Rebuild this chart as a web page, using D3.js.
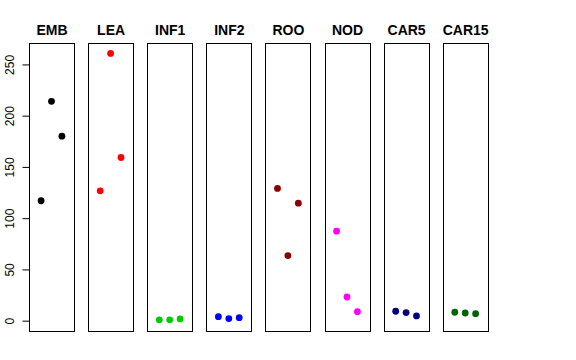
<!DOCTYPE html>
<html><head><meta charset="utf-8">
<script src="https://cdn.jsdelivr.net/npm/d3@7"></script>
<style>body{margin:0;background:#fff}svg{display:block}</style>
</head><body>
<script>
const categories = ["EMB","LEA","INF1","INF2","ROO","NOD","CAR5","CAR15"];
const colors = ["#000000","#FF0000","#00CD00","#0000FF","#8B0000","#FF00FF","#000080","#006400"];
const EMB = [117, 214, 180];
const LEA = [126.7, 260.7, 159.2];
const INF1 = [0.8, 0.8, 1.7];
const INF2 = [3.9, 2.0, 2.9];
const ROO = [129, 63.5, 114.6];
const NOD = [87.3, 23.1, 8.8];
const CAR5 = [9.2, 7.9, 4.6];
const CAR15 = [8.2, 7.5, 6.8];
const series = [EMB, LEA, INF1, INF2, ROO, NOD, CAR5, CAR15];
const yTicks = [0, 50, 100, 150, 200, 250];

const W = 576, H = 360;
const svg = d3.select("body").append("svg").attr("width", W).attr("height", H);
const plotTop = 43.3, plotBottom = 331;
const all = series.flat();
const mn = d3.min(all), mx = d3.max(all), ext = (mx - mn) * 0.04;
const y = d3.scaleLinear().domain([mn - ext, mx + ext]).range([plotBottom - 0.5, plotTop - 0.5]);
const bw = 45, step = 59.1;
categories.forEach((c, i) => {
  const x0 = 29 + i * step;
  const x = d3.scaleLinear().domain([-0.16, 4.16]).range([x0, x0 + bw]);
  const g = svg.append("g");
  g.append("rect").attr("x", Math.round(x0) + 0.5).attr("y", Math.round(plotTop) + 0.5).attr("width", bw).attr("height", Math.round(plotBottom - plotTop))
    .attr("fill", "none").attr("stroke", "#000").attr("stroke-width", 1);
  g.selectAll("circle").data(series[i]).enter().append("circle")
    .attr("cx", (d, j) => x(j + 1)).attr("cy", d => y(d)).attr("r", 3.4).attr("fill", colors[i]);
  g.append("text").attr("x", x0 + bw / 2 + 0.5).attr("y", 35).attr("text-anchor", "middle")
    .attr("font-family", "Liberation Sans, Arial, sans-serif").attr("font-weight", "bold").attr("font-size", 14)
    .text(c);
});
// y axis
const ax = svg.append("g").attr("transform", "translate(29.5,0)")
  .call(d3.axisLeft(y).tickValues(yTicks).tickSize(7).tickPadding(0).tickFormat(d3.format("d")));
ax.select(".domain").attr("d", `M0,${y(0)}V${y(250)}`).attr("stroke", "#000");
ax.selectAll(".tick line").attr("stroke", "#000");
ax.selectAll(".tick text").attr("font-family", "Liberation Sans, Arial, sans-serif").attr("font-size", 12)
  .attr("fill", "#000").attr("text-anchor", "middle").attr("dy", null)
  .attr("transform", "translate(-19.5,0) rotate(-90)").attr("x", 0).attr("y", 0).attr("dominant-baseline", "central");
</script>
</body></html>
